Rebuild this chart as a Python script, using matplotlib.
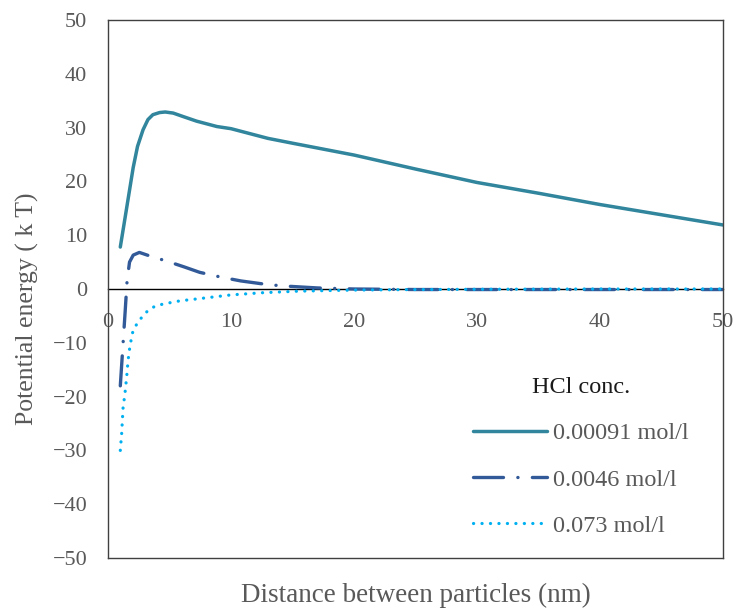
import numpy as np
import matplotlib
matplotlib.use('Agg')
import matplotlib.pyplot as plt

plt.rcParams['font.family'] = ['Liberation Serif', 'DejaVu Serif']

# Values (distance in nm, energy in kT)
x_low = [1.0, 1.3, 2.05, 2.4, 2.85, 3.25, 3.65, 4.2, 4.65, 5.3, 6.05, 7.2, 8.85, 10.0, 13.0, 15.0,
         20.0, 25.0, 30.0, 35.0, 40.0, 45.0, 50.0]
y_low = [7.8, 12.0, 22.6, 26.5, 29.6, 31.5, 32.4, 32.8, 32.9, 32.7, 32.1, 31.2, 30.2, 29.8, 28.0, 27.1,
         24.9, 22.3, 19.8, 17.8, 15.7, 13.8, 11.9]

x_mid = [1.0, 1.2, 1.4, 1.55, 1.75, 2.05, 2.55, 3.45, 4.75, 6.2, 7.45, 9.2, 10.8, 12.4, 14.0, 17.0,
         20.0, 25.0, 30.0, 35.0, 40.0, 45.0, 50.0]
y_mid = [-18.0, -11.0, -4.0, 1.5, 5.0, 6.3, 6.8, 6.1, 5.2, 4.1, 3.1, 2.2, 1.5, 1.0, 0.6, 0.2,
         0.0, -0.1, -0.1, -0.1, -0.1, -0.1, -0.1]

x_high = [1.0, 1.11, 1.22, 1.38, 1.52, 1.63, 1.79, 2.03, 2.44, 2.85, 3.25, 3.82, 4.47, 5.85, 7.2,
          10.0, 12.5, 15.5, 20.0, 25.0, 30.0, 40.0, 50.0]
y_high = [-30.0, -26.9, -22.2, -19.4, -16.3, -13.3, -10.5, -7.8, -6.1, -5.0, -4.0, -3.2, -2.8, -2.2,
          -1.85, -1.1, -0.7, -0.4, -0.2, -0.1, -0.05, 0.0, 0.0]

labels = ['0.00091 mol/l', '0.0046 mol/l', '0.073 mol/l']
colors = ['#31859C', '#325A98', '#00B0F0']
gray = '#595959'

fig = plt.figure(figsize=(7.37, 6.10), dpi=100)
ax = fig.add_axes([108 / 737, 1 - 558 / 610, 615 / 737, 538 / 610])

ax.plot(x_low, y_low, color=colors[0], lw=2.5, label=labels[0], solid_capstyle='round')
ax.plot(x_mid, y_mid, color=colors[1], lw=2.4, dashes=(9, 4.3, 0.05, 4.3),
        dash_capstyle='round', label=labels[1])
ax.plot(x_high, y_high, color=colors[2], lw=2.3, dashes=(0.05, 2.6), dash_capstyle='round',
        label=labels[2])

ax.set_xlim(0, 50)
ax.set_ylim(-50, 50)
ax.set_yticks(np.arange(-50, 51, 10))
ax.tick_params(axis='y', length=0, pad=15, labelsize=16, labelcolor=gray)
ax.tick_params(axis='x', length=0, labelbottom=False)

for s in ax.spines.values():
    s.set_color('#404040')
    s.set_linewidth(1.0)

# x axis drawn through y = 0
xax = ax.secondary_xaxis(0.5)
xax.set_alignment('bottom')
xax.set_xticks(np.arange(0, 51, 10))
xax.tick_params(length=0, pad=17, labelsize=16, labelcolor=gray)
xax.spines['bottom'].set_color('black')
xax.spines['bottom'].set_linewidth(1.0)

ax.set_xlabel('Distance between particles (nm)', fontsize=19.5, color=gray, labelpad=18)
ax.set_ylabel('Potential energy ( k T)', fontsize=18.5, color=gray)
ax.yaxis.set_label_coords(-0.113, 0.464)

leg = ax.legend(title='HCl conc.', loc='upper left', frameon=False, fontsize=17.5,
                title_fontsize=17.5, handlelength=3.05, handletextpad=0.25, labelspacing=1.0,
                borderpad=0, borderaxespad=0,
                bbox_to_anchor=(473 / 737, 1 - 377 / 610), bbox_transform=fig.transFigure)
for t in leg.get_texts():
    t.set_color(gray)
leg.get_title().set_color('#1a1a1a')

fig.savefig('out.png', dpi=100)
